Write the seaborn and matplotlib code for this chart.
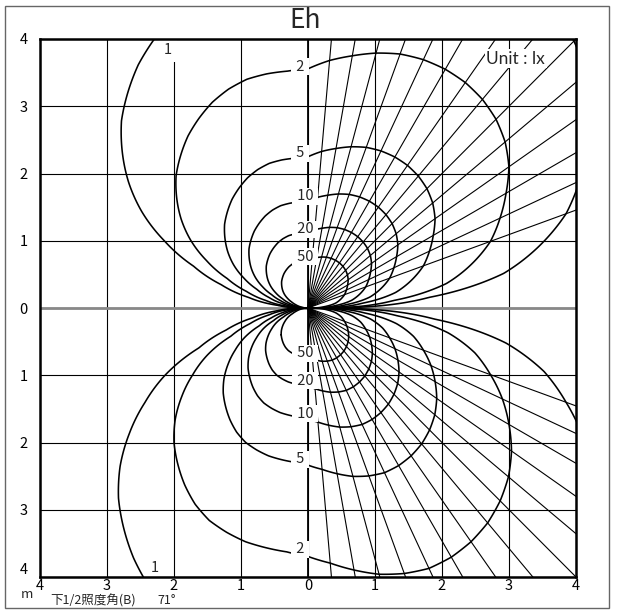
import numpy as np
import pandas as pd
import matplotlib
matplotlib.use("Agg")
import matplotlib.pyplot as plt
from matplotlib.patches import Rectangle
import seaborn as sns

# isolux levels (lx)
levels = [1, 2, 5, 10, 20, 50]

angle_deg = list(range(0, 181, 5))
upper_er2 = [0, 3.3, 8.8, 12.8, 16.8, 20.0, 23.3, 26.8, 29.5, 31.5, 32.8, 33.5, 33.6,
             33.2, 32.3, 30.8, 29.0, 27.3, 25.3, 25.0, 25.0, 24.8, 24.0, 22.8, 21.2,
             19.5, 17.5, 15.5, 13.1, 10.7, 8.2, 5.6, 3.3, 1.8, 0.8, 0.2, 0]
lower_er2 = [0, 3.6, 9.0, 13.3, 16.8, 20.5, 24.0, 27.5, 30.5, 32.9, 34.8, 36.0, 36.6,
             36.5, 35.3, 33.6, 31.3, 29.0, 27.3, 26.5, 26.2, 25.9, 25.2, 24.3, 22.7,
             20.6, 18.3, 16.0, 13.4, 10.6, 7.9, 5.5, 3.0, 1.6, 0.7, 0.2, 0]

# beam angle lines (deg)
ray_upper = [20, 25, 30, 35, 40, 45, 50, 55, 60, 65, 70, 75, 80, 85]
ray_lower = [-20, -25, -30, -35, -40, -45, -50, -55, -60, -65, -70, -75, -80, -85]

tick_vals = [-4, -3, -2, -1, 0, 1, 2, 3, 4]
tick_text = ["4", "3", "2", "1", "0", "1", "2", "3", "4"]
label_text = ["2", "5", "10", "20", "50"]

sns.set_style("white")
plt.rcParams["font.family"] = ["Noto Sans CJK JP", "DejaVu Sans"]

fig = plt.figure(figsize=(6.17, 6.10), dpi=100)
ax = fig.add_axes([40 / 617, 1 - 577 / 610, 536 / 617, 538 / 610])

# illuminance field from the read-off E*r^2 table
xs = np.linspace(-4.2, 4.2, 1261)
gx, gy = np.meshgrid(xs, xs)
theta = np.degrees(np.arctan2(gy, gx))
g = np.where(gy >= 0,
             np.interp(theta, angle_deg, upper_er2),
             np.interp(-theta, angle_deg, lower_er2))
field = g / np.maximum(gx ** 2 + gy ** 2, 1e-6)
ax.contour(gx, gy, field, levels=levels, colors="black", linewidths=1.15, zorder=2)

# rays
rows = []
for a in ray_upper + ray_lower:
    rows.append((a, 0.0, 0.0))
    rows.append((a, 7 * np.cos(np.radians(a)), 7 * np.sin(np.radians(a))))
rays = pd.DataFrame(rows, columns=["angle", "x", "y"])
sns.lineplot(data=rays, x="x", y="y", units="angle", estimator=None, sort=False,
             color="black", lw=0.8, ax=ax, legend=False)

ax.axhline(0, color="#888888", lw=2, zorder=1)
ax.axvline(0, color="black", lw=1.3, zorder=1.5)

ax.set_xlim(-4, 4)
ax.set_ylim(-4, 4)
ax.set_xticks(tick_vals)
ax.set_xticklabels(tick_text)
ax.set_yticks(tick_vals)
ax.set_yticklabels(tick_text)
ax.set_xlabel("")
ax.set_ylabel("")
ax.set_axisbelow(True)
ax.grid(True, color="black", lw=0.8)
ax.tick_params(axis="both", length=0, labelsize=10.5, colors="black")
ax.tick_params(axis="y", pad=9)
ax.tick_params(axis="x", pad=1.5)
ax.get_yticklabels()[0].set_va("bottom")
for s in ax.spines.values():
    s.set_color("black")
    s.set_linewidth(1.8)

box = dict(boxstyle="square,pad=0.1", fc="white", ec="none")
up_y = [3.59, 2.30, 1.66, 1.17, 0.76]
lo_y = [-3.59, -2.25, -1.57, -1.08, -0.67]
lab_x = [-0.12, -0.12, -0.04, -0.04, -0.04]
for t, x, yu, yl in zip(label_text, lab_x, up_y, lo_y):
    ax.text(x, yu, " " + t + " ", ha="center", va="center", fontsize=10.5, bbox=box, zorder=2.4)
    ax.text(x, yl, " " + t + " ", ha="center", va="center", fontsize=10.5, bbox=box, zorder=2.4)
ax.text(-2.09, 3.84, "1", ha="center", va="center", fontsize=10.5,
        bbox=dict(boxstyle="square,pad=0.33", fc="white", ec="none"), zorder=2.4)
ax.text(-2.28, -3.87, "1", ha="center", va="center", fontsize=10.5, zorder=2.4)
ax.text(3.1, 3.71, "Unit : lx", ha="center", va="center", fontsize=12.5, family="Lato",
        bbox=dict(boxstyle="square,pad=0.1", fc="white", ec="none"), zorder=2.4)

fig.text(305 / 617, 1 - 21 / 610, "Eh", ha="center", va="center", fontsize=19)
fig.text(27 / 617, 1 - 594 / 610, "m", ha="center", va="center", fontsize=9.5)
fig.text(50 / 617, 1 - 601 / 610, "下1/2照度角(B)", ha="left", va="center", fontsize=9)
fig.text(157 / 617, 1 - 601 / 610, "71°", ha="left", va="center", fontsize=9)

fig.patches.append(Rectangle((5 / 617, 2 / 610), 604 / 617, 602 / 610,
                             transform=fig.transFigure, fill=False, ec="#666666", lw=1))

fig.savefig("out.png", dpi=100)
